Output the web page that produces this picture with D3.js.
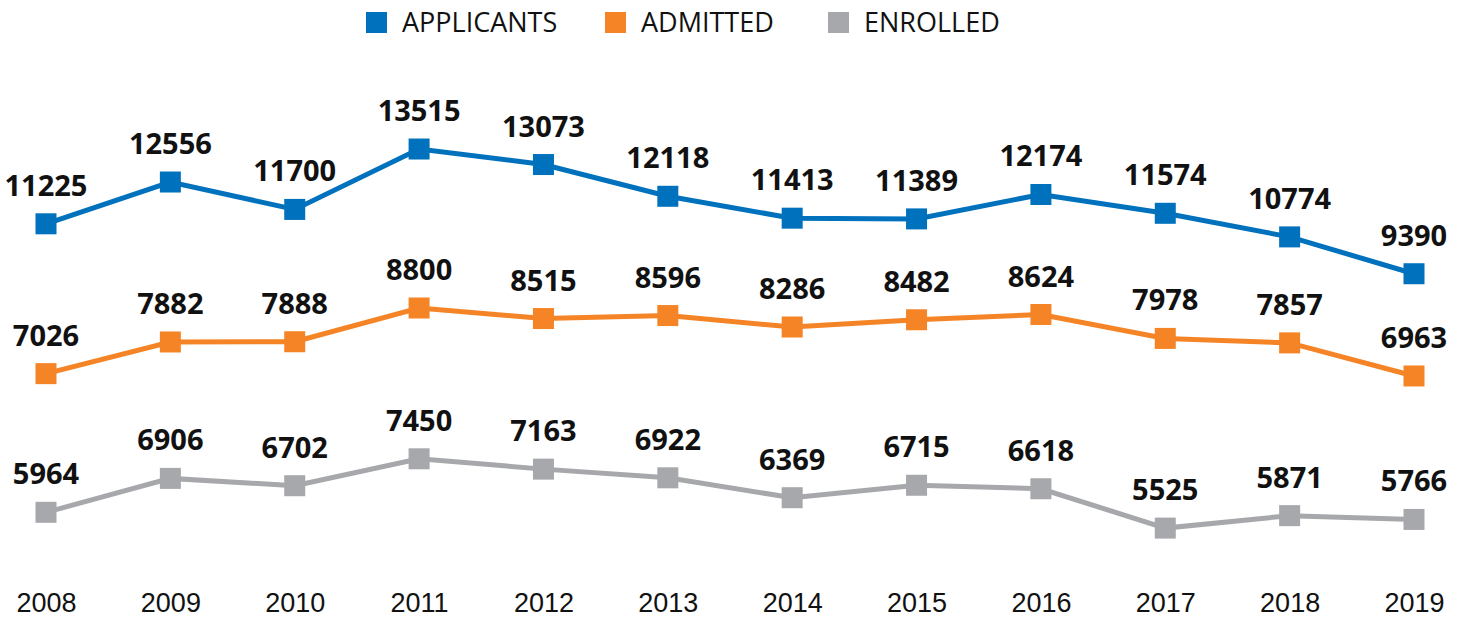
<!DOCTYPE html>
<html>
<head>
<meta charset="utf-8">
<script src="https://cdn.jsdelivr.net/npm/d3@7"></script>
<style>
  html, body { margin: 0; padding: 0; background: #fff; }
  svg { display: block; font-family: 'Open Sans', 'Noto Sans', sans-serif; }
  .value { font-weight: 700; font-size: 29px; fill: #111; }
  .year { font-size: 27px; fill: #111; }
  .legend text { font-size: 27px; fill: #111; }
</style>
</head>
<body>
<div id="chart"></div>
<script>
var years = ['2008', '2009', '2010', '2011', '2012', '2013', '2014', '2015', '2016', '2017', '2018', '2019'];
var applicants = [11225, 12556, 11700, 13515, 13073, 12118, 11413, 11389, 12174, 11574, 10774, 9390];
var admitted = [7026, 7882, 7888, 8800, 8515, 8596, 8286, 8482, 8624, 7978, 7857, 6963];
var enrolled = [5964, 6906, 6702, 7450, 7163, 6922, 6369, 6715, 6618, 5525, 5871, 5766];
var seriesNames = ['APPLICANTS', 'ADMITTED', 'ENROLLED'];

var svgWidth = 1465;
var svgHeight = 620;

// each series sits in its own band (no y axis is shown)
var series = [
  { name: seriesNames[0], values: applicants, color: '#0071bc', exponent: 2, domain: [9000, 14000], range: [283.2, 131.4] },
  { name: seriesNames[1], values: admitted, color: '#f58426', exponent: 1, domain: [7000, 9000], range: [374.6, 300.6] },
  { name: seriesNames[2], values: enrolled, color: '#a7a8ac', exponent: 1, domain: [5500, 7500], range: [529, 457] }
];

var svg = d3.select('#chart').append('svg')
  .attr('width', svgWidth)
  .attr('height', svgHeight);

var xScale = d3.scalePoint()
  .domain(years)
  .range([46, 1414]);

var xAxis = d3.axisBottom(xScale)
  .tickSize(0)
  .tickPadding(0);

svg.append('g')
  .attr('class', 'axis axis--x')
  .attr('transform', 'translate(0, 588)')
  .call(xAxis)
  .call(function (g) {
    g.select('.domain').remove();
    g.selectAll('text')
      .attr('class', 'year')
      .attr('dy', null)
      .attr('y', 24)
      .attr('font-size', null)
      .attr('font-family', null);
  });

var markerSize = 21;

series.forEach(function (s) {
  var yScale = d3.scalePow()
    .exponent(s.exponent)
    .domain(s.domain)
    .range(s.range);

  var line = d3.line()
    .x(function (_, i) { return xScale(years[i]); })
    .y(function (d) { return yScale(d); });

  var g = svg.append('g').attr('class', 'series');

  g.append('path')
    .datum(s.values)
    .attr('fill', 'none')
    .attr('stroke', s.color)
    .attr('stroke-width', 5)
    .attr('d', line);

  g.selectAll('rect')
    .data(s.values)
    .enter().append('rect')
    .attr('x', function (_, i) { return xScale(years[i]) - markerSize / 2; })
    .attr('y', function (d) { return yScale(d) - markerSize / 2; })
    .attr('width', markerSize)
    .attr('height', markerSize)
    .attr('fill', s.color);

  g.selectAll('text')
    .data(s.values)
    .enter().append('text')
    .attr('class', 'value')
    .attr('text-anchor', 'middle')
    .attr('x', function (_, i) { return xScale(years[i]); })
    .attr('y', function (d) { return yScale(d) - 28; })
    .text(function (d) { return d; });
});

// legend
var legendX = [366, 605, 828];
var legend = svg.append('g').attr('class', 'legend');
series.forEach(function (s, i) {
  legend.append('rect')
    .attr('x', legendX[i])
    .attr('y', 12)
    .attr('width', 21)
    .attr('height', 21)
    .attr('fill', s.color);
  legend.append('text')
    .attr('x', legendX[i] + 36)
    .attr('y', 32)
    .text(s.name);
});
</script>
</body>
</html>
